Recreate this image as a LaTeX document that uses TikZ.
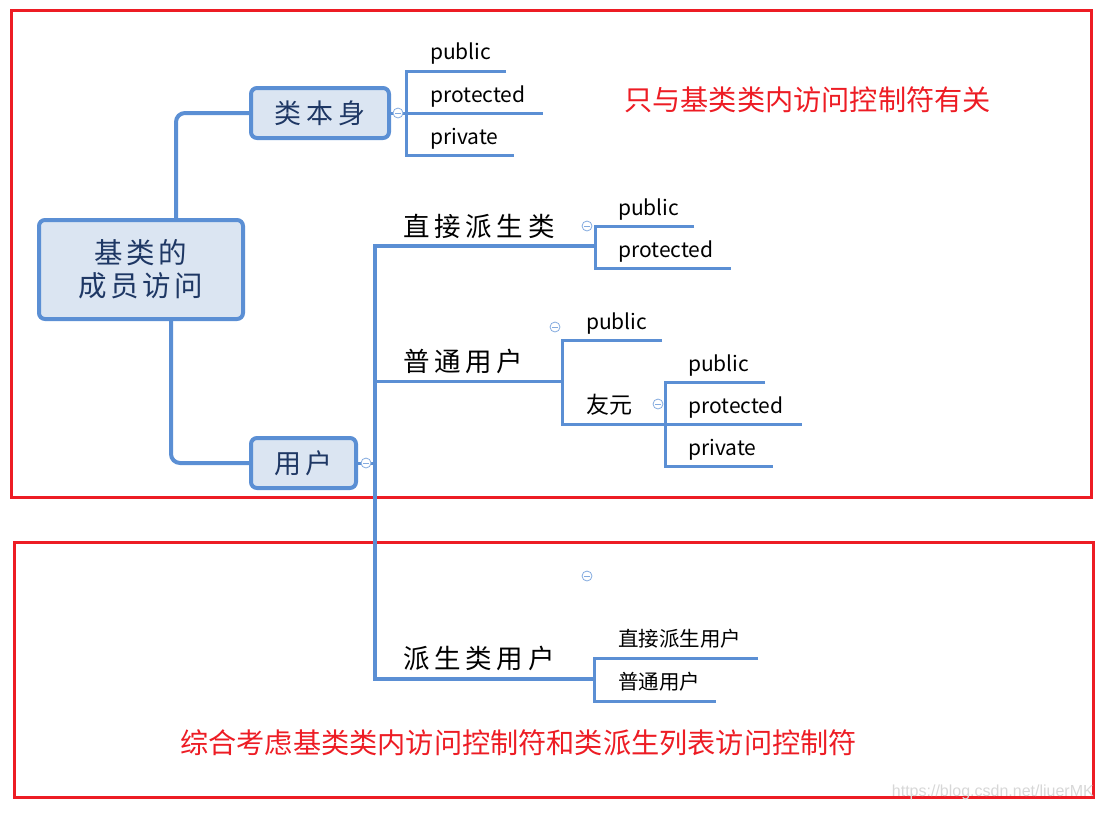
\documentclass[tikz,border=0pt]{standalone}
\usepackage{fontspec}
\setmainfont{Noto Sans CJK SC}
\newfontfamily\cjk{Noto Sans CJK SC}
\newfontfamily\kai[LetterSpace=18]{Noto Sans CJK SC}
\newfontfamily\kairoot[LetterSpace=12]{Noto Sans CJK SC}
\newfontfamily\wmfont{Liberation Sans}
\definecolor{lineblue}{RGB}{91,143,212}
\definecolor{boxfill}{RGB}{219,229,242}
\definecolor{darkblue}{RGB}{30,55,100}
\definecolor{redline}{RGB}{237,28,36}
\definecolor{wmgray}{RGB}{215,215,215}
\begin{document}
\begin{tikzpicture}[x=1pt,y=-1pt,
  topic/.style={draw=lineblue, line width=4pt, fill=boxfill, rounded corners=6pt,
    text=darkblue, inner sep=0pt},
  conn/.style={draw=lineblue, line width=4pt, rounded corners=9pt},
  branch/.style={draw=lineblue, line width=3pt},
  trunk/.style={draw=lineblue, line width=3.5pt},
  leaf/.style={anchor=west, inner sep=0pt, font=\cjk\fontsize{21}{24}\selectfont},
  kaitext/.style={anchor=west, inner sep=0pt, font=\kai\fontsize{26.5}{30}\selectfont},
  redtext/.style={anchor=west, inner sep=0pt, text=redline, font=\cjk\fontsize{28.2}{30}\selectfont},
  toggle/.style={circle, draw=lineblue!75, line width=0.8pt, minimum size=10pt, inner sep=0pt,
    fill=white, path picture={\draw[lineblue!75, line width=0.8pt]
      ([xshift=-2.6pt]path picture bounding box.center) -- ([xshift=2.6pt]path picture bounding box.center);}},
  redbox/.style={draw=redline, line width=3pt}
]
\useasboundingbox (0,0) rectangle (1101,812);

% red frames
\draw[redbox] (11.5,10.5) rectangle (1091,497);
\draw[redbox] (14,542.5) rectangle (1093,797);

% main topics
\node[topic, minimum width=204, minimum height=99, align=center,
  font=\kairoot\fontsize{28.5}{33}\selectfont] (root) at (141,269.5) {基类的\\成员访问};
\node[topic, minimum width=138, minimum height=50, font=\kai\fontsize{27}{30}\selectfont] (self) at (320,113) {类本身};
\node[topic, minimum width=105, minimum height=50, font=\kai\fontsize{27}{30}\selectfont] (user) at (303.5,463) {用户};

% connectors root -> topics
\draw[conn] ([xshift=35pt]root.north) |- (self.west);
\draw[conn] ([xshift=30pt]root.south) |- (user.west);

% coordinates of brackets
\coordinate (sb) at (406,113);
\coordinate (ub) at (375,463);

% 类本身 children
\draw[branch] (self.east) -- (sb);
\draw[branch] (506,71) -- (406,71) -- (406,155) -- (514,155);
\draw[branch] (sb) -- (543,113);
\node[leaf] (s1) at (430,54) {public};
\node[leaf] (s2) at (430,97) {protected};
\node[leaf] (s3) at (430,139) {private};
\node[toggle] (t1) at (398,113) {};

% 用户 children
\draw[branch] (user.east) -- (ub);
\draw[trunk] (595,246) -- (375,246) -- (375,679) -- (594,679);
\draw[branch] (375,381) -- (562,381);
\node[toggle] (t2) at (366,463) {};

\node[kaitext] (d1) at (403,226) {直接派生类};
\node[kaitext] (d2) at (403,361) {普通用户};
\node[kaitext] (d3) at (403,658) {派生类用户};

% 直接派生类 children
\draw[branch] (694,226) -- (595,226) -- (595,268) -- (731,268);
\node[leaf] (e1) at (618,210) {public};
\node[leaf] (e2) at (618,252) {protected};
\node[toggle] (t3) at (587,226) {};

% 普通用户 children
\draw[branch] (662,340) -- (562,340) -- (562,424) -- (665,424);
\node[leaf] (f1) at (586,324) {public};
\node[leaf, font=\cjk\fontsize{23}{26}\selectfont] (f2) at (586,405) {友元};
\node[toggle] (t4) at (555,327) {};

% 友元 children
\draw[branch] (765,382) -- (665,382) -- (665,466) -- (773,466);
\draw[branch] (665,424) -- (802,424);
\node[leaf] (g1) at (688,366) {public};
\node[leaf] (g2) at (688,408) {protected};
\node[leaf] (g3) at (688,450) {private};
\node[toggle] (t5) at (658,404) {};

% 派生类用户 children
\draw[branch] (758,658) -- (594,658) -- (594,701) -- (716,701);
\node[leaf, font=\cjk\fontsize{20.5}{24}\selectfont] (h1) at (618,639) {直接派生用户};
\node[leaf, font=\cjk\fontsize{20.5}{24}\selectfont] (h2) at (618,682) {普通用户};
\node[toggle] (t6) at (587,576) {};

% red annotations
\node[redtext] (r1) at (624,100) {只与基类类内访问控制符有关};
\node[redtext] (r2) at (180,743) {综合考虑基类类内访问控制符和类派生列表访问控制符};

% watermark
\node[anchor=east, inner sep=0pt, text=wmgray, font=\wmfont\fontsize{16}{18}\selectfont] (wm) at (1094,792) {https://blog.csdn.net/liuerMK};
\end{tikzpicture}
\end{document}
